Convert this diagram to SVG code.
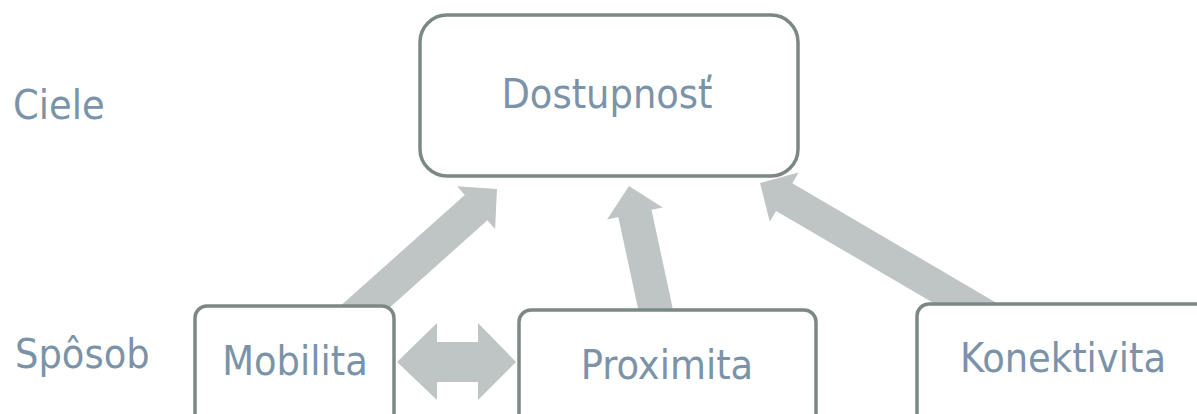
<svg xmlns="http://www.w3.org/2000/svg" width="1197" height="414" viewBox="0 0 1197 414">
  <style>
    .box { fill: #ffffff; stroke: #7c8886; stroke-width: 3.5; }
    .arrow { fill: #bfc5c4; stroke: none; }
    .label { font-family: "DejaVu Sans Condensed", "DejaVu Sans", sans-serif; font-size: 41px; fill: #7b93a8; }
    .mid { text-anchor: middle; }
  </style>
  <rect width="1197" height="414" fill="#ffffff"/>

  <!-- row headings -->
  <text class="label" x="13" y="119">Ciele</text>
  <text class="label" x="15" y="368">Spôsob</text>

  <!-- block arrows -->
  <g id="connectors">
    <polygon class="arrow" points="497,189 495.1,228.9 487.4,220.3 350.3,342.7 327.7,317.3 464.8,194.9 457.1,186.3"/>
    <polygon class="arrow" points="629,186 662.7,207.4 651.5,209.8 676.6,326.4 643.4,333.6 618.3,217 607.1,219.4"/>
    <polygon class="arrow" points="760,183 798.6,172.5 792.3,183.3 1019.3,316.2 1003.1,343.8 776.1,210.9 769.8,221.7"/>
    <polygon class="arrow" points="397,362 437,323 437,342 478,342 478,323 516,362 478,400 478,382 437,382 437,400"/>
  </g>

  <g id="dostupnost">
    <rect class="box" x="420" y="15" width="378" height="161" rx="27"/>
    <text class="label mid" x="607" y="108">Dostupnosť</text>
  </g>

  <g id="mobilita">
    <rect class="box" x="195" y="306" width="199" height="130" rx="12"/>
    <text class="label mid" x="295" y="375">Mobilita</text>
  </g>

  <g id="proximita">
    <rect class="box" x="519" y="310" width="297" height="130" rx="12"/>
    <text class="label mid" x="667" y="379">Proximita</text>
  </g>

  <g id="konektivita">
    <rect class="box" x="917" y="304" width="300" height="130" rx="12"/>
    <text class="label mid" x="1063" y="372">Konektivita</text>
  </g>
</svg>
